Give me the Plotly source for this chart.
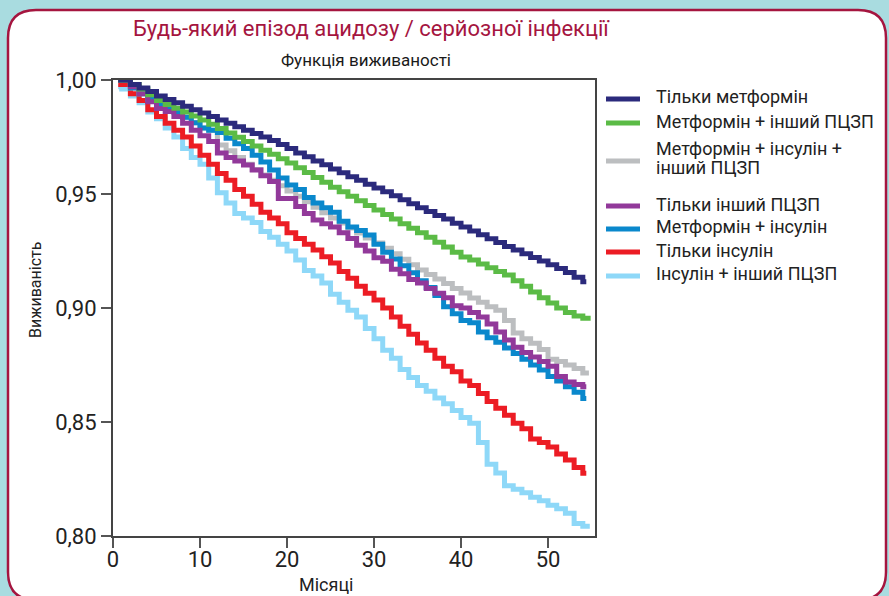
import plotly.graph_objects as go

# ---------------- data ----------------
months = [0.6, 1, 2, 3, 4, 5, 6, 7, 8, 9, 10, 11, 12, 13, 14, 15, 16, 17, 18, 19, 20,
          21, 22, 23, 24, 25, 26, 27, 28, 29, 30, 31, 32, 33, 34, 35, 36, 37, 38, 39, 40,
          41, 42, 43, 44, 45, 46, 47, 48, 49, 50, 51, 52, 53, 54]

series_names = ["Тільки метформін", "Метформін + інший ПЦЗП",
                "Метформін + інсулін +<br>інший ПЦЗП", "Тільки інший ПЦЗП",
                "Метформін + інсулін", "Тільки інсулін", "Інсулін + інший ПЦЗП"]

navy = [1.000, 1.000, 0.998, 0.9965, 0.995, 0.993, 0.9915, 0.990, 0.9885, 0.987, 0.9855,
        0.984, 0.9825, 0.981, 0.9795, 0.978, 0.9765, 0.975, 0.9735, 0.9717, 0.970,
        0.968, 0.9663, 0.9645, 0.9628, 0.961, 0.9593, 0.9576, 0.956, 0.9543, 0.9526,
        0.951, 0.9492, 0.9475, 0.9457, 0.944, 0.9423, 0.9406, 0.939, 0.9372, 0.9355,
        0.9338, 0.9321, 0.9304, 0.9287, 0.927, 0.9254, 0.9238, 0.9222, 0.9206, 0.919,
        0.9173, 0.9156, 0.9135, 0.9115]
green = [1.000, 1.000, 0.998, 0.996, 0.9935, 0.991, 0.9893, 0.9876, 0.986, 0.9842, 0.9825,
         0.9806, 0.9787, 0.9768, 0.9749, 0.973, 0.9711, 0.9692, 0.9674, 0.9655, 0.9636,
         0.9615, 0.9594, 0.9572, 0.9551, 0.953, 0.951, 0.949, 0.947, 0.945, 0.943,
         0.941, 0.939, 0.937, 0.935, 0.933, 0.931, 0.9288, 0.9267, 0.9245, 0.9224,
         0.921, 0.9193, 0.9177, 0.916, 0.9145, 0.912, 0.9095, 0.907, 0.9045, 0.9022,
         0.900, 0.898, 0.8965, 0.8955]
gray = [1.000, 1.000, 0.9965, 0.994, 0.9915, 0.989, 0.9875, 0.986, 0.9837, 0.9813, 0.979,
        0.978, 0.9715, 0.969, 0.966, 0.963, 0.9607, 0.9583, 0.956, 0.9536, 0.9513,
        0.949, 0.9466, 0.9442, 0.9418, 0.9395, 0.9373, 0.9351, 0.9329, 0.9307, 0.9285,
        0.9262, 0.9238, 0.9214, 0.919, 0.9167, 0.9147, 0.9127, 0.9107, 0.9085, 0.9066,
        0.9044, 0.9025, 0.9005, 0.899, 0.8945, 0.889, 0.8865, 0.8845, 0.8818, 0.8775,
        0.8765, 0.875, 0.8735, 0.8715]
purple = [1.000, 1.000, 0.997, 0.994, 0.9905, 0.9875, 0.9862, 0.984, 0.981, 0.978, 0.9755,
          0.973, 0.968, 0.966, 0.9645, 0.9627, 0.9605, 0.958, 0.9555, 0.948, 0.948,
          0.9445, 0.9415, 0.9386, 0.937, 0.9355, 0.933, 0.9305, 0.9275, 0.925, 0.922,
          0.9205, 0.917, 0.915, 0.9125, 0.911, 0.9085, 0.9065, 0.9045, 0.901, 0.900,
          0.898, 0.896, 0.893, 0.8895, 0.886, 0.8828, 0.8805, 0.8785, 0.8765, 0.8745,
          0.870, 0.8675, 0.8665, 0.8655]
blue = [1.000, 1.000, 0.9965, 0.994, 0.9915, 0.989, 0.9875, 0.986, 0.9837, 0.9813, 0.979,
        0.978, 0.977, 0.9745, 0.972, 0.970, 0.967, 0.964, 0.9605, 0.957, 0.954,
        0.952, 0.9485, 0.946, 0.944, 0.942, 0.938, 0.9355, 0.934, 0.932, 0.928,
        0.9245, 0.9215, 0.9185, 0.9155, 0.912, 0.909, 0.9055, 0.9005, 0.8975, 0.8945,
        0.8935, 0.8895, 0.887, 0.885, 0.8825, 0.880, 0.8775, 0.875, 0.8728, 0.870,
        0.868, 0.8655, 0.863, 0.8603]
red = [0.998, 0.998, 0.994, 0.991, 0.987, 0.984, 0.981, 0.978, 0.975, 0.971, 0.967,
       0.963, 0.959, 0.956, 0.952, 0.949, 0.9455, 0.942, 0.9395, 0.937, 0.933,
       0.9305, 0.928, 0.9254, 0.9225, 0.9197, 0.916, 0.913, 0.9095, 0.9065, 0.9035,
       0.900, 0.896, 0.892, 0.8885, 0.8847, 0.8815, 0.878, 0.8745, 0.872, 0.868,
       0.866, 0.8625, 0.859, 0.856, 0.853, 0.8495, 0.847, 0.8425, 0.841, 0.839,
       0.836, 0.8333, 0.830, 0.8275]
lightblue = [0.997, 0.996, 0.993, 0.990, 0.986, 0.983, 0.979, 0.975, 0.970, 0.966, 0.963,
             0.957, 0.9505, 0.946, 0.9415, 0.9395, 0.9375, 0.9335, 0.931, 0.928, 0.925,
             0.921, 0.9165, 0.914, 0.911, 0.906, 0.9025, 0.899, 0.896, 0.891, 0.8865,
             0.8815, 0.878, 0.873, 0.8695, 0.866, 0.8635, 0.8605, 0.858, 0.855, 0.852,
             0.8495, 0.841, 0.8315, 0.8276, 0.822, 0.8205, 0.819, 0.817, 0.8155, 0.8135,
             0.812, 0.810, 0.8055, 0.8043]

end_months = [54.4, 54.9, 54.7, 54.4, 54.4, 54.4, 54.8]

x_ticks = [0, 10, 20, 30, 40, 50]
y_ticks = [0.80, 0.85, 0.90, 0.95, 1.00]
y_tick_labels = ["0,80", "0,85", "0,90", "0,95", "1,00"]

title_text = "Будь-який епізод ацидозу / серйозної інфекції"
subtitle_text = "Функція виживаності"
x_title = "Місяці"
y_title = "Виживаність"

colors = ["#2b2a7c", "#5bbb46", "#bcbec0", "#92399a", "#0a88cc", "#ec1c24", "#8ed8f8"]
all_series = [navy, green, gray, purple, blue, red, lightblue]
# drawing order, bottom to top (indices into all_series)
draw_order = [6, 5, 2, 4, 3, 1, 0]

# ---------------- layout geometry (pixels) ----------------
W, H = 889, 596
L, R, T, B = 113, 595, 80, 536
FONT = "Roboto, 'Noto Sans', sans-serif"

legend_symbol_y = [99, 123, 161, 206, 229, 252, 276]
legend_text_y = [97, 121, 148, 204, 227, 250, 273]
LEGEND_LINE_GAP = 19


def px(xp):
    return (xp - L) / (R - L)


def py(yp):
    return (B - yp) / (B - T)


fig = go.Figure()

for i in draw_order:
    vals = all_series[i]
    xs = months + [end_months[i]]
    ys = vals + [vals[-1]]
    fig.add_trace(go.Scatter(
        x=xs, y=ys, mode="lines", name=series_names[i].replace("<br>", " "),
        line=dict(color=colors[i], width=5, shape="hv"),
        hoverinfo="skip", showlegend=False,
    ))

# white rounded panel with crimson border
x0, x1, y0, y1, r = 8, 886, 10, 600, 28
path = (
    f"M {px(x0)},{py(y0 + r)} "
    f"Q {px(x0)},{py(y0)} {px(x0 + r)},{py(y0)} "
    f"L {px(x1 - r)},{py(y0)} "
    f"Q {px(x1)},{py(y0)} {px(x1)},{py(y0 + r)} "
    f"L {px(x1)},{py(y1 - r)} "
    f"Q {px(x1)},{py(y1)} {px(x1 - r)},{py(y1)} "
    f"L {px(x0 + r)},{py(y1)} "
    f"Q {px(x0)},{py(y1)} {px(x0)},{py(y1 - r)} Z"
)
fig.add_shape(type="path", path=path, xref="paper", yref="paper",
              fillcolor="white", line=dict(color="#a5153f", width=2.5), layer="below")

# legend (drawn manually to match the spacing of the original)
for i, name in enumerate(series_names):
    fig.add_shape(type="line", xref="paper", yref="paper",
                  x0=px(606), x1=px(640), y0=py(legend_symbol_y[i]), y1=py(legend_symbol_y[i]),
                  line=dict(color=colors[i], width=5))
    for k, part in enumerate(name.split("<br>")):
        fig.add_annotation(text=part, x=px(654), y=py(legend_text_y[i] + k * LEGEND_LINE_GAP),
                           xref="paper", yref="paper",
                           showarrow=False, xanchor="left", yanchor="middle", align="left",
                           font=dict(family=FONT, size=18, color="#222222"))

fig.add_annotation(text=title_text, x=px(371), y=py(29), xref="paper", yref="paper",
                   showarrow=False, xanchor="center", yanchor="middle",
                   font=dict(family=FONT, size=22, color="#a5153f"))
fig.add_annotation(text=subtitle_text, x=px(366), y=py(60), xref="paper", yref="paper",
                   showarrow=False, xanchor="center", yanchor="middle",
                   font=dict(family=FONT, size=17, color="#1a1a1a"))
fig.add_annotation(text=x_title, x=px(326), y=py(584), xref="paper", yref="paper",
                   showarrow=False, xanchor="center", yanchor="middle",
                   font=dict(family=FONT, size=18, color="#222222"))
fig.add_annotation(text=y_title, x=px(35), y=py(290), xref="paper", yref="paper",
                   showarrow=False, xanchor="center", yanchor="middle", textangle=-90,
                   font=dict(family=FONT, size=16, color="#222222"))

fig.update_layout(
    width=W, height=H,
    margin=dict(l=L, r=W - R, t=T, b=H - B, pad=0, autoexpand=False),
    paper_bgcolor="#a9dce0",
    plot_bgcolor="rgba(0,0,0,0)",
    font=dict(family=FONT, color="#222222"),
    showlegend=False,
    xaxis=dict(
        range=[0, 55.4], tickvals=x_ticks, ticks="outside", ticklen=10, tickwidth=2,
        tickcolor="#555555", showline=True, linecolor="#444444", linewidth=2,
        mirror=True, showgrid=False, zeroline=False, automargin=False,
        ticklabelstandoff=-7,
        tickfont=dict(family=FONT, size=22, color="#222222"),
    ),
    yaxis=dict(
        range=[0.80, 1.00], tickvals=y_ticks, ticktext=y_tick_labels, ticks="outside",
        ticklen=10, tickwidth=2, tickcolor="#555555", showline=True, linecolor="#444444",
        linewidth=2, mirror=True, showgrid=False, zeroline=False, automargin=False,
        tickfont=dict(family=FONT, size=22, color="#222222"),
    ),
)

fig.write_html("out.html")
